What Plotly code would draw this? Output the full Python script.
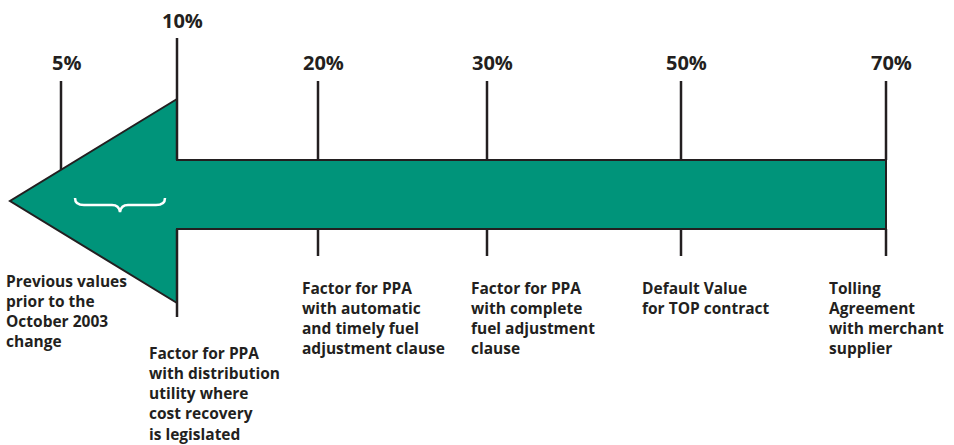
import plotly.graph_objects as go

# percentage factors along the arrow and what each one stands for
pct_labels = ["5%", "10%", "20%", "30%", "50%", "70%"]
descriptions = [
    "Previous values<br>prior to the<br>October 2003<br>change",
    "Factor for PPA<br>with distribution<br>utility where<br>cost recovery<br>is legislated",
    "Factor for PPA<br>with automatic<br>and timely fuel<br>adjustment clause",
    "Factor for PPA<br>with complete<br>fuel adjustment<br>clause",
    "Default Value<br>for TOP contract",
    "Tolling<br>Agreement<br>with merchant<br>supplier",
]

# layout (canvas units, y grows downward)
tick_x = [61, 177, 318, 487, 681, 886]
label_y = [62, 20, 62, 62, 62, 62]
line_top = [81, 38, 81, 81, 81, 81]
desc_x = [4, 147, 300, 469, 640, 827]
desc_y = [268, 340, 275, 275, 275, 275]

TEAL = "#00947a"
INK = "#231f20"
FONT = "Open Sans"

tip = (10, 201)
head_x, head_top, head_bot = 177, 99, 303
shaft_top, shaft_bot, shaft_end = 160, 229, 886

fig = go.Figure()

# the big arrow pointing left
ax = [shaft_end, head_x, head_x, tip[0], head_x, head_x, shaft_end, shaft_end]
ay = [shaft_top, shaft_top, head_top, tip[1], head_bot, shaft_bot, shaft_bot, shaft_top]
fig.add_trace(go.Scatter(
    x=ax, y=ay, mode="lines", fill="toself", fillcolor=TEAL,
    line=dict(color=INK, width=2), hoverinfo="skip", showlegend=False,
))

def head_edge_y(x):
    # y of the upper edge of the arrowhead at a given x
    return head_top + (head_x - x) / (head_x - tip[0]) * (tip[1] - head_top)

for i, x in enumerate(tick_x):
    bottom = shaft_top if x >= head_x else head_edge_y(x)
    fig.add_shape(type="line", x0=x, x1=x, y0=line_top[i], y1=bottom,
                  line=dict(color=INK, width=2.5))
    if x > head_x:
        fig.add_shape(type="line", x0=x, x1=x, y0=shaft_bot, y1=256,
                      line=dict(color=INK, width=2.5))
    elif x == head_x:
        fig.add_shape(type="line", x0=x, x1=x, y0=shaft_bot, y1=317,
                      line=dict(color=INK, width=2.5))

    fig.add_annotation(x=x + 5, y=label_y[i], text=pct_labels[i], showarrow=False,
                       xanchor="center", yanchor="middle", borderpad=0,
                       font=dict(family=FONT, size=20, color=INK, weight="bold"))
    fig.add_annotation(x=desc_x[i], y=desc_y[i], text=descriptions[i], showarrow=False,
                       xanchor="left", yanchor="top", align="left",
                       font=dict(family=FONT, size=15.5, color=INK, weight="bold"))

# white brace inside the arrowhead
fig.add_shape(
    type="path",
    path="M 75 198 Q 75 205 84 205 L 112 205 Q 119 205 120 212 "
         "Q 121 205 128 205 L 156 205 Q 165 205 165 198",
    line=dict(color="white", width=2.5),
)

fig.update_layout(
    width=954, height=445,
    margin=dict(l=0, r=0, t=0, b=0),
    plot_bgcolor="white", paper_bgcolor="white",
    xaxis=dict(range=[0, 954], visible=False, fixedrange=True),
    yaxis=dict(range=[445, 0], visible=False, fixedrange=True),
    showlegend=False,
)

# drop the default body margin so the canvas sits flush with the window
fig.write_html("out.html", config={"displayModeBar": False},
               post_script="document.body.style.margin='0';")
